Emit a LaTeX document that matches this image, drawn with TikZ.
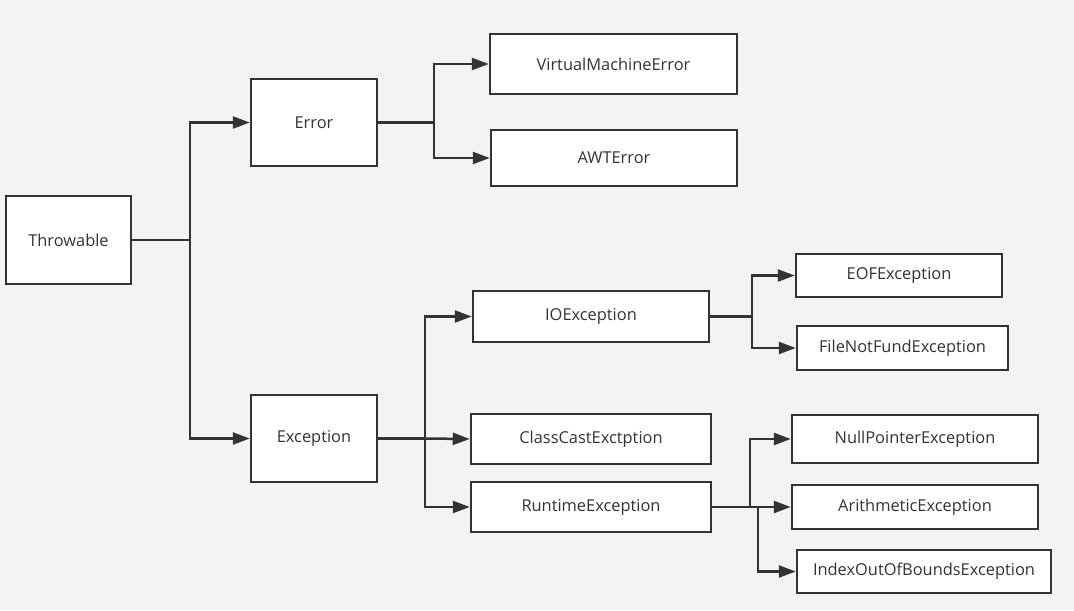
\documentclass[tikz,border=0pt]{standalone}
\usepackage{fontspec}
\setmainfont{Open Sans}
\usetikzlibrary{arrows.meta}
\definecolor{linegray}{HTML}{333333}
\definecolor{bggray}{HTML}{F3F3F3}
\tikzset{
  cls/.style={draw=linegray, fill=white, line width=1.25pt, text=linegray,
    font=\fontsize{8.2}{10}\selectfont, inner sep=0pt},
  link/.style={draw=linegray, line width=1.25pt},
  arr/.style={link, -{Triangle[length=8.5pt,width=6pt]}}
}
\begin{document}
\begin{tikzpicture}[x=0.5pt,y=-0.5pt]
  \fill[bggray] (0,0) rectangle (1074,610);
  \useasboundingbox (0,0) rectangle (1074,610);

  % root and first level
  \node[cls, minimum width=62.5pt, minimum height=44pt] (throwable) at (68.5,240) {Throwable};
  \node[cls, minimum width=63pt, minimum height=43.5pt] (error) at (314,122.5) {Error};
  \node[cls, minimum width=63pt, minimum height=43.5pt] (exception) at (314,438.5) {Exception};

  % errors
  \node[cls, minimum width=123.5pt, minimum height=30pt] (vmerror) at (613.5,64) {VirtualMachineError};
  \node[cls, minimum width=123pt, minimum height=28pt] (awterror) at (614,158) {AWTError};

  % exceptions
  \node[cls, minimum width=118pt, minimum height=25.5pt] (ioexc) at (591,316.5) {IOException};
  \node[cls, minimum width=120pt, minimum height=25pt] (castexc) at (591,439) {ClassCastExctption};
  \node[cls, minimum width=120pt, minimum height=25pt] (runexc) at (591,507) {RuntimeException};

  % io and runtime children
  \node[cls, minimum width=103pt, minimum height=21.5pt] (eofexc) at (899,275.5) {EOFException};
  \node[cls, minimum width=105.5pt, minimum height=22pt] (fileexc) at (902.5,348) {FileNotFundException};
  \node[cls, minimum width=123pt, minimum height=24pt] (nullexc) at (915,439) {NullPointerException};
  \node[cls, minimum width=123pt, minimum height=22pt] (arithexc) at (915,507) {ArithmeticException};
  \node[cls, minimum width=127pt, minimum height=21.5pt] (indexexc) at (924,571.5) {IndexOutOfBoundsException};

  % junctions
  \coordinate (jroot) at (190,240);
  \coordinate (jerr) at (434,122.5);
  \coordinate (jexc) at (425,438.5);
  \coordinate (jio) at (752,316.5);
  \coordinate (jrun) at (750,507);
  \coordinate (jrunb) at (758,507);

  \draw[link] (throwable.east) -- (jroot);
  \draw[arr] (jroot) |- (error.west);
  \draw[arr] (jroot) |- (exception.west);

  \draw[link] (error.east) -- (jerr);
  \draw[arr] (jerr) |- (vmerror.west);
  \draw[arr] (jerr) |- (awterror.west);

  \draw[link] (exception.east) -- (jexc);
  \draw[arr] (jexc) |- (ioexc.west);
  \draw[arr] (jexc) -- (castexc.west);
  \draw[arr] (jexc) |- (runexc.west);

  \draw[link] (ioexc.east) -- (jio);
  \draw[arr] (jio) |- (eofexc.west);
  \draw[arr] (jio) |- (fileexc.west);

  \draw[link] (runexc.east) -- (jrunb);
  \draw[arr] (jrun) |- (nullexc.west);
  \draw[arr] (jrun) -- (arithexc.west);
  \draw[arr] (jrunb) |- (indexexc.west);
\end{tikzpicture}
\end{document}
